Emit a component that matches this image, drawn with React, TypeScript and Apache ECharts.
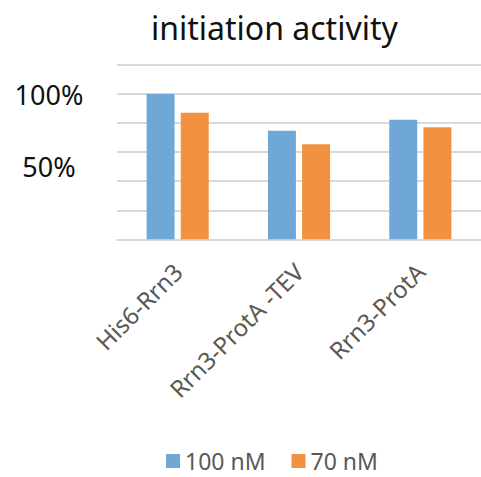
import React, { useEffect, useRef } from "react";
import * as echarts from "echarts";

const categories = ["His6-Rrn3", "Rrn3-ProtA -TEV", "Rrn3-ProtA"];
const seriesNames = ["100 nM", "70 nM"];
const values100 = [100, 74.7, 82.3];
const values70 = [87.1, 65.5, 77.2];
const yLabelValues = [50, 100];

export default function App() {
  const ref = useRef<HTMLDivElement>(null);
  useEffect(() => {
    if (!ref.current) return;
    const chart = echarts.init(ref.current, null, { renderer: "svg" });
    const font = "'Noto Sans', sans-serif";
    chart.setOption({
      animation: false,
      title: {
        text: "initiation activity",
        left: 146,
        top: 6,
        textStyle: { fontFamily: font, fontSize: 32, fontWeight: "normal", color: "#111" },
      },
      legend: {
        data: seriesNames,
        left: 166,
        top: 448,
        padding: 0,
        itemWidth: 14,
        itemHeight: 14,
        itemGap: 26,
        icon: "rect",
        textStyle: { fontFamily: font, fontSize: 23, color: "#595959", lineHeight: 26 },
      },
      grid: { left: 117, top: 65, width: 367.5, height: 174.3, containLabel: false },
      xAxis: {
        type: "category",
        data: categories,
        axisLine: { show: true, lineStyle: { color: "#d9d9d9", width: 2 } },
        axisTick: { show: false },
        axisLabel: {
          rotate: 45,
          margin: 28,
          interval: 0,
          fontFamily: font,
          fontSize: 24,
          color: "#595959",
        },
      },
      yAxis: [
        {
          type: "value",
          min: 0,
          max: 120,
          interval: 20,
          axisLine: { show: false },
          axisTick: { show: false },
          axisLabel: { show: false },
          splitLine: { show: true, lineStyle: { color: "#d9d9d9", width: 2 } },
        },
        {
          type: "value",
          position: "left",
          min: 0,
          max: 120,
          interval: 50,
          axisLine: { show: false },
          axisTick: { show: false },
          splitLine: { show: false },
          axisLabel: {
            align: "center",
            margin: 68,
            fontFamily: font,
            fontSize: 27,
            color: "#111",
            formatter: (v: number) => (yLabelValues.includes(v) ? v + "%" : ""),
          },
        },
      ],
      series: [
        {
          name: seriesNames[0],
          type: "bar",
          data: values100,
          barWidth: 28,
          barGap: "22%",
          itemStyle: { color: "#6FA8D7" },
        },
        {
          name: seriesNames[1],
          type: "bar",
          data: values70,
          barWidth: 28,
          barGap: "22%",
          itemStyle: { color: "#F2913F" },
        },
      ],
    });
    return () => chart.dispose();
  }, []);
  return (
    <div
      ref={ref}
      style={{ position: "fixed", left: 0, top: 0, width: 481, height: 477, background: "#fff" }}
    />
  );
}
